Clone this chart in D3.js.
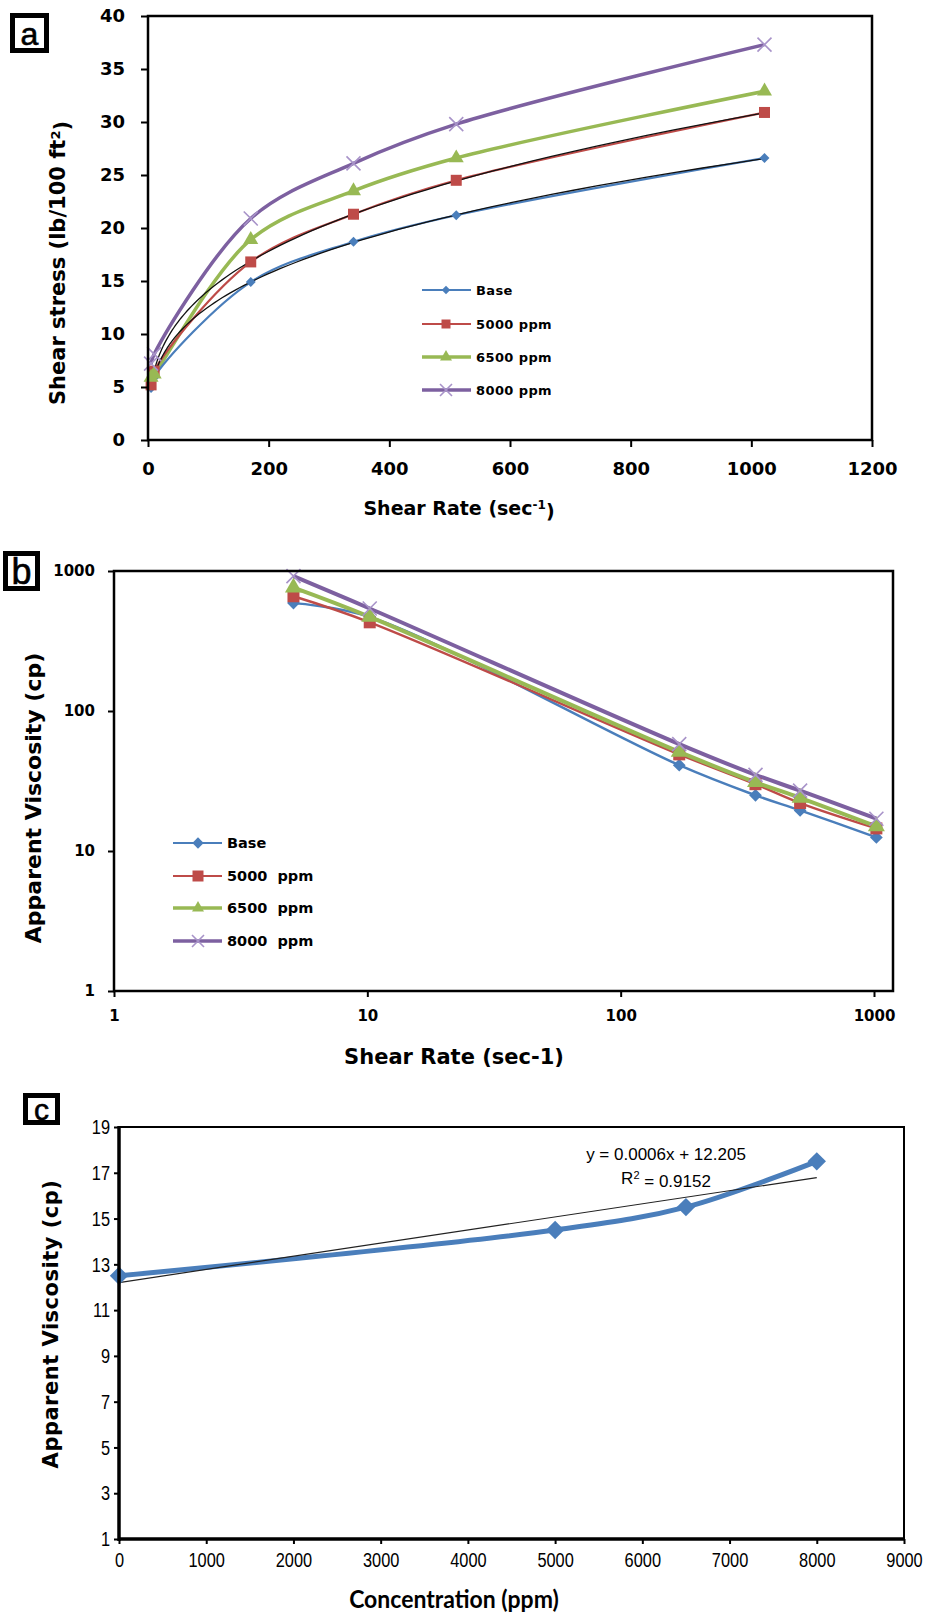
<!DOCTYPE html>
<html>
<head>
<meta charset="utf-8">
<script src="https://cdn.jsdelivr.net/npm/d3@7"></script>
<style>
body { margin: 0; background: #fff; }
svg { display: block; }
</style>
</head>
<body>
<div id="chart"></div>
<script>
// ---- data ----
const seriesNames = ["Base", "5000 ppm", "6500 ppm", "8000 ppm"];
const shearRates = [5.11, 10.22, 170.3, 340.6, 510.9, 1021.8];

// panel a: shear stress (lb/100 ft2)
const stressBase = [4.9, 5.9, 14.9, 18.7, 21.2, 26.6];
const stress5000 = [5.2, 6.5, 16.8, 21.3, 24.5, 30.9];
const stress6500 = [5.9, 6.2, 18.9, 23.5, 26.6, 32.9];
const stress8000 = [7.2, 8.1, 20.9, 26.1, 29.8, 37.3];

// panel b: apparent viscosity (cp)
const viscBase = [590, 470, 41, 25, 19.5, 12.5];
const visc5000 = [660, 430, 49, 30, 22, 14.5];
const visc6500 = [760, 470, 51, 31, 24, 15];
const visc8000 = [920, 540, 58, 35, 27, 17];

// panel c
const concentrations = [0, 5000, 6500, 8000];
const viscByConc = [12.5, 14.5, 15.5, 17.5];

// tick labels
const stressTicks = [0, 5, 10, 15, 20, 25, 30, 35, 40];
const rateTicksA = [0, 200, 400, 600, 800, 1000, 1200];
const viscTicksB = [1, 10, 100, 1000];
const rateTicksB = [1, 10, 100, 1000];
const viscTicksC = [1, 3, 5, 7, 9, 11, 13, 15, 17, 19];
const concTicks = [0, 1000, 2000, 3000, 4000, 5000, 6000, 7000, 8000, 9000];

// ---- styles ----
const colors = ["#4a7ebb", "#be4b48", "#98b954", "#7d60a0"];
const markerKinds = ["diamond", "square", "triangle", "x"];
const lineWidths = [2.2, 2.2, 3.5, 3.5];
const boldWide = "'DejaVu Sans', Verdana, sans-serif";
const narrow = "'Liberation Sans Narrow', 'Liberation Sans', Arial, sans-serif";
const smooth = d3.curveCatmullRom.alpha(0.5);

const svg = d3.select("#chart").append("svg")
    .attr("width", 928)
    .attr("height", 1618);
svg.append("rect").attr("width", 928).attr("height", 1618).attr("fill", "#fff");

function marker(g, kind, cx, cy, s, color) {
    if (kind === "x") {
        g.append("path")
            .attr("d", `M${-s},${-s}L${s},${s}M${-s},${s}L${s},${-s}`)
            .attr("transform", `translate(${cx},${cy})`)
            .attr("stroke", "#a893c9")
            .attr("stroke-width", 1.6)
            .attr("fill", "none");
        return;
    }
    let d, rot = 0;
    if (kind === "diamond") { d = d3.symbol(d3.symbolSquare, s * s)(); rot = 45; }
    if (kind === "square") d = d3.symbol(d3.symbolSquare, s * s)();
    if (kind === "triangle") d = d3.symbol(d3.symbolTriangle, 0.433 * s * s)();
    g.append("path")
        .attr("d", d)
        .attr("transform", `translate(${cx},${cy}) rotate(${rot})`)
        .attr("fill", color);
}

function panelLabel(x, y, w, h, letter, fs) {
    svg.append("rect")
        .attr("x", x + 2.5).attr("y", y + 2.5)
        .attr("width", w - 5).attr("height", h - 5)
        .attr("fill", "#fff").attr("stroke", "#000").attr("stroke-width", 5);
    svg.append("text")
        .attr("x", x + w / 2).attr("y", y + h / 2)
        .attr("dy", "0.36em")
        .attr("text-anchor", "middle")
        .style("font-family", "'Liberation Sans', Arial, sans-serif")
        .style("font-size", fs + "px")
        .style("stroke", "#000").style("stroke-width", 0.6)
        .text(letter);
}

function frame(x0, x1, y0, y1, w) {
    svg.append("rect")
        .attr("x", x0).attr("y", y0)
        .attr("width", x1 - x0).attr("height", y1 - y0)
        .attr("fill", "none").attr("stroke", "#000").attr("stroke-width", w);
}

function styleAxis(g, font, size, weight, tickW) {
    g.select(".domain").remove();
    g.selectAll(".tick line").attr("stroke", "#000").attr("stroke-width", tickW);
    g.selectAll(".tick text")
        .attr("fill", "#000")
        .style("font-family", font)
        .style("font-size", size + "px")
        .style("font-weight", weight);
}

function powerFit(xs, ys) {
    const lx = xs.map(Math.log), ly = ys.map(Math.log);
    const mx = d3.mean(lx), my = d3.mean(ly);
    const b = d3.sum(lx, (v, i) => (v - mx) * (ly[i] - my)) / d3.sum(lx, v => (v - mx) * (v - mx));
    return { a: Math.exp(my - b * mx), b: b };
}

// ================= panel a =================
const stressSeries = [stressBase, stress5000, stress6500, stress8000];
const xa = d3.scaleLinear().domain([0, 1200]).range([148, 872]);
const ya = d3.scaleLinear().domain([0, 40]).range([440, 16]);

const ga = svg.append("g");
const axYa = svg.append("g").attr("transform", "translate(148,0)")
    .call(d3.axisLeft(ya).tickValues(stressTicks).tickSize(7).tickPadding(16));
styleAxis(axYa, boldWide, 18, "bold", 2);
const axXa = svg.append("g").attr("transform", "translate(0,440)")
    .call(d3.axisBottom(xa).tickValues(rateTicksA).tickFormat(d3.format("d")).tickSize(7).tickPadding(15));
styleAxis(axXa, boldWide, 18, "bold", 2);
frame(148, 872, 16, 440, 2.5);

// trend lines (power fits) for Base and 5000 ppm
[stressBase, stress5000].forEach(ys => {
    const f = powerFit(shearRates, ys);
    const xsFit = d3.range(0, 101).map(i => shearRates[0] * Math.pow(shearRates[5] / shearRates[0], i / 100));
    ga.append("path")
        .datum(xsFit)
        .attr("d", d3.line().x(v => xa(v)).y(v => ya(f.a * Math.pow(v, f.b))))
        .attr("fill", "none").attr("stroke", "#111").attr("stroke-width", 1.3);
});

stressSeries.forEach((ys, k) => {
    ga.insert("path", ":first-child")
        .datum(ys)
        .attr("d", d3.line().x((v, i) => xa(shearRates[i])).y(v => ya(v)).curve(smooth))
        .attr("fill", "none").attr("stroke", colors[k]).attr("stroke-width", lineWidths[k]);
});
const sizesA = [7, 11, 15, 7];
stressSeries.forEach((ys, k) => {
    ys.forEach((v, i) => marker(ga, markerKinds[k], xa(shearRates[i]), ya(v), sizesA[k], colors[k]));
});

// legend a
const legA = svg.append("g");
const legRowsA = [290, 324, 357, 390];
seriesNames.forEach((name, k) => {
    legA.append("line").attr("x1", 422).attr("x2", 471)
        .attr("y1", legRowsA[k]).attr("y2", legRowsA[k])
        .attr("stroke", colors[k]).attr("stroke-width", lineWidths[k]);
    marker(legA, markerKinds[k], 446, legRowsA[k], [6, 9, 12, 6][k], colors[k]);
    legA.append("text").attr("x", 476).attr("y", legRowsA[k]).attr("dy", "0.36em")
        .style("font-family", boldWide).style("font-size", "13px").style("font-weight", "bold")
        .style("letter-spacing", "0.4px")
        .text(name);
});

svg.append("text")
    .attr("transform", "translate(58,263) rotate(-90)")
    .attr("text-anchor", "middle").attr("dy", "0.35em")
    .style("font-family", boldWide).style("font-size", "21px").style("font-weight", "bold")
    .call(t => {
        t.append("tspan").text("Shear stress (lb/100 ft");
        t.append("tspan").attr("dy", "-0.45em").style("font-size", "13px").text("2");
        t.append("tspan").attr("dy", "0.45em").text(")");
    });
svg.append("text")
    .attr("x", 459).attr("y", 508).attr("dy", "0.35em")
    .attr("text-anchor", "middle")
    .style("font-family", boldWide).style("font-size", "19px").style("font-weight", "bold")
    .call(t => {
        t.append("tspan").text("Shear Rate (sec");
        t.append("tspan").attr("dy", "-0.45em").style("font-size", "12px").text("-1");
        t.append("tspan").attr("dy", "0.45em").text(")");
    });
panelLabel(10, 13, 39, 40, "a", 32);

// ================= panel b =================
const viscSeries = [viscBase, visc5000, visc6500, visc8000];
const xb = d3.scaleLog().domain([1, Math.pow(10, 3.075)]).range([114, 893]);
const yb = d3.scaleLog().domain([1, 1000]).range([991, 571]);

const gb = svg.append("g");
const axYb = svg.append("g").attr("transform", "translate(114,0)")
    .call(d3.axisLeft(yb).tickValues(viscTicksB).tickFormat(d3.format("d")).tickSize(6).tickPadding(13));
styleAxis(axYb, boldWide, 15, "bold", 2);
const axXb = svg.append("g").attr("transform", "translate(0,991)")
    .call(d3.axisBottom(xb).tickValues(rateTicksB).tickFormat(d3.format("d")).tickSize(6).tickPadding(13));
styleAxis(axXb, boldWide, 15, "bold", 2);
frame(114, 893, 571, 991, 2.5);

const lineWidthsB = [2.4, 2.4, 4, 4];
viscSeries.forEach((ys, k) => {
    gb.append("path")
        .datum(ys)
        .attr("d", d3.line().x((v, i) => xb(shearRates[i])).y(v => yb(v)).curve(smooth))
        .attr("fill", "none").attr("stroke", colors[k]).attr("stroke-width", lineWidthsB[k]);
});
const sizesB = [9, 12, 17, 7];
viscSeries.forEach((ys, k) => {
    ys.forEach((v, i) => marker(gb, markerKinds[k], xb(shearRates[i]), yb(v), sizesB[k], colors[k]));
});

const legB = svg.append("g");
const legRowsB = [843, 876, 908, 941];
seriesNames.forEach((name, k) => {
    legB.append("line").attr("x1", 173).attr("x2", 222)
        .attr("y1", legRowsB[k]).attr("y2", legRowsB[k])
        .attr("stroke", colors[k]).attr("stroke-width", lineWidthsB[k] - 0.5);
    marker(legB, markerKinds[k], 198, legRowsB[k], [8, 11, 12, 6][k], colors[k]);
    legB.append("text").attr("x", 227).attr("y", legRowsB[k]).attr("dy", "0.36em")
        .style("font-family", boldWide).style("font-size", "14.5px").style("font-weight", "bold")
        .style("white-space", "pre")
        .text(name.replace(" ", "  "));
});

svg.append("text")
    .attr("transform", "translate(33,798) rotate(-90)")
    .attr("text-anchor", "middle").attr("dy", "0.35em")
    .style("font-family", boldWide).style("font-size", "22px").style("font-weight", "bold")
    .text("Apparent Viscosity (cp)");
svg.append("text")
    .attr("x", 454).attr("y", 1057).attr("dy", "0.35em")
    .attr("text-anchor", "middle")
    .style("font-family", boldWide).style("font-size", "21px").style("font-weight", "bold")
    .text("Shear Rate (sec-1)");
panelLabel(3, 551, 37, 40, "b", 36);

// ================= panel c =================
const xc = d3.scaleLinear().domain([0, 9000]).range([119, 904]);
const yc = d3.scaleLinear().domain([1, 19]).range([1539, 1127]);

const gc = svg.append("g");
const axYc = svg.append("g").attr("transform", "translate(119,0)")
    .call(d3.axisLeft(yc).tickValues(viscTicksC).tickSize(5).tickPadding(4));
styleAxis(axYc, narrow, 21, "normal", 2);
const axXc = svg.append("g").attr("transform", "translate(0,1539)")
    .call(d3.axisBottom(xc).tickValues(concTicks).tickFormat(d3.format("d")).tickSize(5).tickPadding(8));
styleAxis(axXc, narrow, 21, "normal", 2);
// squeeze tick labels horizontally
[axYc, axXc].forEach(ax => ax.selectAll(".tick text").each(function () {
    const t = d3.select(this);
    const x0 = +t.attr("x") || 0;
    t.attr("x", x0 / 0.78).attr("transform", "scale(0.78,1)");
}));
frame(119, 904, 1127, 1539, 2);
svg.append("line").attr("x1", 119).attr("x2", 119).attr("y1", 1126).attr("y2", 1541)
    .attr("stroke", "#000").attr("stroke-width", 3.5);
svg.append("line").attr("x1", 118).attr("x2", 905).attr("y1", 1539).attr("y2", 1539)
    .attr("stroke", "#000").attr("stroke-width", 3.5);

// linear trend line from the data
const mxc = d3.mean(concentrations), myc = d3.mean(viscByConc);
const slope = d3.sum(concentrations, (v, i) => (v - mxc) * (viscByConc[i] - myc)) /
    d3.sum(concentrations, v => (v - mxc) * (v - mxc));
const icpt = myc - slope * mxc;
gc.append("line")
    .attr("x1", xc(concentrations[0])).attr("y1", yc(icpt + slope * concentrations[0]))
    .attr("x2", xc(concentrations[3])).attr("y2", yc(icpt + slope * concentrations[3]))
    .attr("stroke", "#222").attr("stroke-width", 1.2);

gc.insert("path", ":first-child")
    .datum(viscByConc)
    .attr("d", d3.line().x((v, i) => xc(concentrations[i])).y(v => yc(v)).curve(smooth))
    .attr("fill", "none").attr("stroke", colors[0]).attr("stroke-width", 5);
viscByConc.forEach((v, i) => marker(gc, "diamond", xc(concentrations[i]), yc(v), 13, colors[0]));

const eq = svg.append("g")
    .style("font-family", "'Liberation Sans', Arial, sans-serif")
    .style("font-size", "17px");
eq.append("text").attr("x", 666).attr("y", 1160).attr("text-anchor", "middle")
    .text("y = 0.0006x + 12.205");
eq.append("text").attr("x", 666).attr("y", 1184).attr("text-anchor", "middle")
    .call(t => {
        t.append("tspan").text("R");
        t.append("tspan").attr("dy", "-0.45em").style("font-size", "11px").text("2");
        t.append("tspan").attr("dy", "0.45em").text(" = 0.9152");
    });

svg.append("text")
    .attr("transform", "translate(51,1324) rotate(-90)")
    .attr("text-anchor", "middle").attr("dy", "0.35em")
    .style("font-family", boldWide).style("font-size", "21px").style("font-weight", "bold")
    .style("letter-spacing", "0.5px")
    .text("Apparent Viscosity (cp)");
svg.append("text")
    .attr("transform", "translate(454,1599) scale(0.92,1)")
    .attr("text-anchor", "middle").attr("dy", "0.35em")
    .style("font-family", "Lato, 'Liberation Sans', sans-serif").style("font-size", "25px").style("font-weight", "bold")
    .text("Concentration (ppm)");
panelLabel(23, 1093, 37, 32, "c", 30);
</script>
</body>
</html>
